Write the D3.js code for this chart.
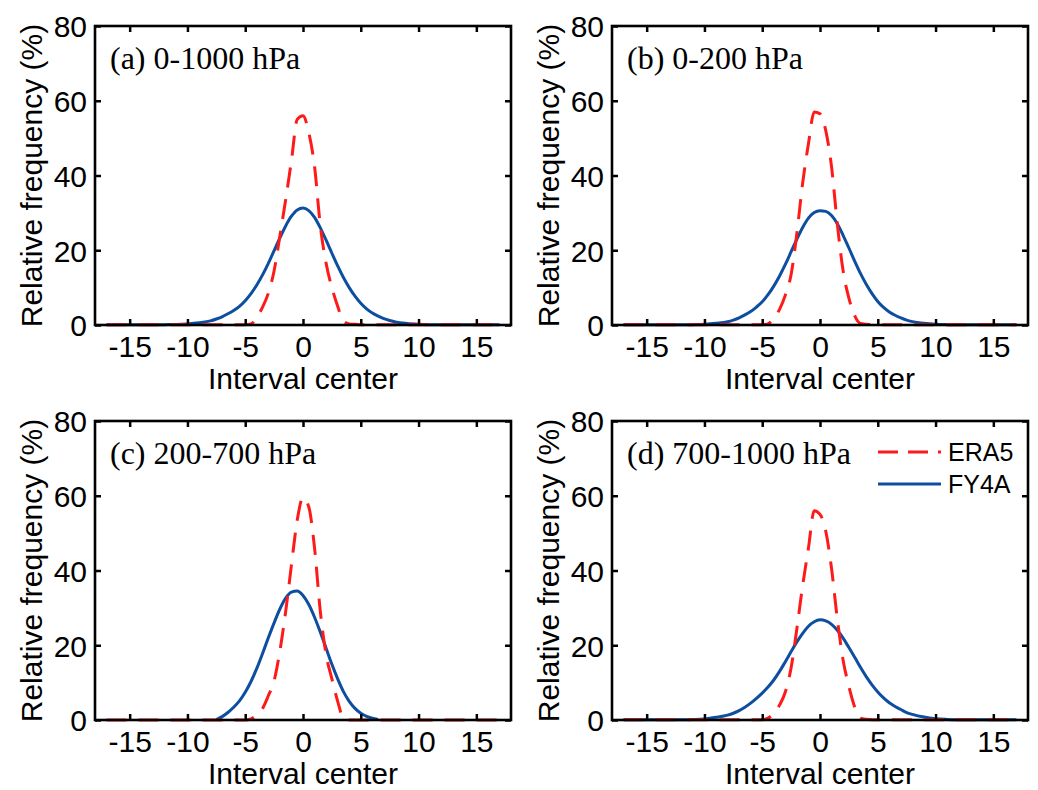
<!DOCTYPE html>
<html lang="en">
<head>
<meta charset="UTF-8">
<title>Relative frequency of interval centers</title>
<script src="https://d3js.org/d3.v7.min.js"></script>
<style>
  body { margin: 0; background: #fff; }
  svg { display: block; background: #fff; }
  .tick text { font-family: 'Liberation Sans', Arial, sans-serif; font-size: 30px; fill: #000; }
  .tick line { stroke: #000; stroke-width: 2.5; }
</style>
</head>
<body>
<svg id="chart" width="1038" height="790"></svg>
<script>
// interval centers (finer step near the peak)
const centers = [-17, -16, -15, -14, -13, -12, -11, -10, -9,
  -8, -7.5, -7, -6.5, -6, -5.5, -5, -4.5, -4, -3.5, -3, -2.5, -2, -1.5, -1, -0.5,
  0, 0.5, 1, 1.5, 2, 2.5, 3, 3.5, 4, 4.5, 5, 5.5, 6, 6.5, 7, 7.5, 8,
  9, 10, 11, 12, 13, 14, 15, 16, 17];

const xTicks = [-15, -10, -5, 0, 5, 10, 15];
const yTicks = [0, 20, 40, 60, 80];
const panelLabels = ['(a) 0-1000 hPa', '(b) 0-200 hPa', '(c) 200-700 hPa', '(d) 700-1000 hPa'];
const seriesNames = ['ERA5', 'FY4A'];

// (a) 0-1000 hPa
const era5A = [0.1, 0.1, 0.1, 0.1, 0.1, 0.1, 0.1, 0.1, 0.1,
  0.1, 0.1, 0.1, 0.1, 0.1, 0.1, 0.1, 0.3, 2.0, 4.8, 8.5, 14.5, 23.8, 33.5, 44, 55,
  56, 51.5, 42.4, 26.5, 16.5, 10, 5, 1.0, 0.3, 0.2, 0.1, 0.1, 0.1, 0.1, 0.1, 0.1, 0.1,
  0.1, 0.1, 0.1, 0.1, 0.1, 0.1, 0.1, 0.1, 0.1];
const fy4aA = [0.05, 0.05, 0.05, 0.05, 0.05, 0.1, 0.15, 0.3, 0.6,
  1.1, 1.6, 2.2, 3.0, 3.9, 5.0, 6.5, 8.4, 10.7, 13.4, 16.5, 19.9, 23.3, 26.5, 29.1, 30.8,
  31.3, 30.6, 28.8, 26.0, 22.7, 19.2, 15.8, 12.7, 10.0, 7.7, 5.8, 4.3, 3.2, 2.4, 1.7, 1.2, 0.8,
  0.4, 0.2, 0.1, 0.05, 0.05, 0.05, 0.05, 0.05, 0.05];

// (b) 0-200 hPa
const era5B = [0.1, 0.1, 0.1, 0.1, 0.1, 0.1, 0.1, 0.1, 0.1,
  0.1, 0.1, 0.1, 0.1, 0.1, 0.1, 0.1, 0.3, 1.8, 4.2, 8, 13.5, 24.6, 38, 48.5, 57,
  56.5, 52, 42.3, 27, 14.5, 7.2, 2.5, 0.4, 0.2, 0.1, 0.1, 0.1, 0.1, 0.1, 0.1, 0.1, 0.1,
  0.1, 0.1, 0.1, 0.1, 0.1, 0.1, 0.1, 0.1, 0.1];
const fy4aB = [0.05, 0.05, 0.05, 0.05, 0.05, 0.05, 0.1, 0.2, 0.45,
  0.85, 1.3, 1.9, 2.7, 3.6, 4.8, 6.2, 8.1, 10.4, 13.1, 16.2, 19.6, 23.0, 26.1, 28.6, 30.1,
  30.6, 30.4, 29.3, 27.1, 24.0, 20.6, 17.1, 13.8, 10.9, 8.4, 6.3, 4.7, 3.5, 2.6, 1.9, 1.3, 0.9,
  0.45, 0.2, 0.1, 0.05, 0.05, 0.05, 0.05, 0.05, 0.05];

// (c) 200-700 hPa
const era5C = [0, 0, 0, 0, 0, 0, 0, 0, 0,
  0, 0, 0, 0, 0, 0, 0, 0.3, 1.3, 3.1, 6.5, 10.5, 18.5, 29, 41.5, 53.5,
  59.5, 57, 46, 29, 17.5, 11, 5, 0.5, 0, 0, 0, 0, 0, 0, 0, 0, 0,
  0, 0, 0, 0, 0, 0, 0, 0, 0];
const fy4aC = [null, null, null, null, null, null, null, null, null,
  null, 0.1, 0.9, 2.0, 3.4, 5.1, 7.4, 10.3, 13.8, 17.8, 22, 26, 29.7, 32.6, 34.2, 34.5,
  33.3, 30.9, 27.5, 23.5, 19.2, 14.9, 11.0, 7.6, 5.0, 3.1, 1.8, 1.0, 0.5, 0.15, null, null, null,
  null, null, null, null, null, null, null, null, null];

// (d) 700-1000 hPa
const era5D = [0.1, 0.1, 0.1, 0.1, 0.1, 0.1, 0.1, 0.1, 0.1,
  0.1, 0.1, 0.1, 0.1, 0.1, 0.1, 0.1, 0.5, 1.8, 4, 7.5, 14, 24.5, 36, 46, 56,
  55, 50.5, 40.5, 27, 16, 9, 3.5, 0.5, 0.2, 0.1, 0.1, 0.1, 0.1, 0.1, 0.1, 0.1, 0.1,
  0.1, 0.1, 0.1, 0.1, 0.1, 0.1, 0.1, 0.1, 0.1];
const fy4aD = [0.05, 0.05, 0.05, 0.05, 0.05, 0.07, 0.14, 0.3, 0.72,
  1.3, 1.8, 2.5, 3.4, 4.5, 5.8, 7.2, 8.8, 10.7, 13.0, 15.6, 18.3, 20.9, 23.2, 25.1, 26.3,
  26.8, 26.5, 25.6, 24.0, 21.9, 19.4, 16.8, 14.1, 11.6, 9.4, 7.5, 5.9, 4.6, 3.6, 2.8, 2.0, 1.5,
  0.78, 0.34, 0.16, 0.08, 0.05, 0.05, 0.05, 0.05, 0.05];

const colors = { ERA5: '#ff1a1a', FY4A: '#0d4ea0' };
const dash = '20,12';

const svg = d3.select('#chart');
const panelW = 416, panelH = 299;

const panels = [
  { left: 95,  top: 26,  label: panelLabels[0], era5: era5A, fy4a: fy4aA },
  { left: 612, top: 26,  label: panelLabels[1], era5: era5B, fy4a: fy4aB },
  { left: 95,  top: 421, label: panelLabels[2], era5: era5C, fy4a: fy4aC },
  { left: 612, top: 421, label: panelLabels[3], era5: era5D, fy4a: fy4aD, legend: true }
];

const x = d3.scaleLinear().domain([-18, 18]).range([0, panelW]);
const y = d3.scaleLinear().domain([0, 80]).range([panelH, 0]);

const line = d3.line()
  .defined(d => d[1] != null)
  .x(d => x(d[0]))
  .y(d => y(d[1]))
  .curve(d3.curveMonotoneX);

const plain = d => String(d);   // hyphen minus, as in the original

panels.forEach(p => {
  const g = svg.append('g').attr('transform', `translate(${p.left},${p.top})`);

  // curves
  g.append('path')
    .datum(centers.map((c, i) => [c, p.fy4a[i]]))
    .attr('d', line)
    .attr('fill', 'none')
    .attr('stroke', colors.FY4A)
    .attr('stroke-width', 3);

  g.append('path')
    .datum(centers.map((c, i) => [c, p.era5[i]]))
    .attr('d', line)
    .attr('fill', 'none')
    .attr('stroke', colors.ERA5)
    .attr('stroke-width', 3)
    .attr('stroke-dasharray', dash);

  // axes, ticks pointing inward on all four sides
  g.append('g')
    .attr('transform', `translate(0,${panelH})`)
    .call(d3.axisBottom(x).tickValues(xTicks).tickSizeInner(-6).tickSizeOuter(0).tickPadding(11).tickFormat(plain));
  const left = g.append('g')
    .call(d3.axisLeft(y).tickValues(yTicks).tickSizeInner(-6).tickSizeOuter(0).tickPadding(8).tickFormat(plain));
  g.append('g')
    .call(d3.axisTop(x).tickValues(xTicks).tickSizeInner(-6).tickSizeOuter(0).tickFormat(''));
  g.append('g')
    .attr('transform', `translate(${panelW},0)`)
    .call(d3.axisRight(y).tickValues(yTicks).tickSizeInner(-6).tickSizeOuter(0).tickFormat(''));
  g.selectAll('.domain').remove();
  left.selectAll('.tick text').attr('dy', '0.36em');

  g.append('rect')
    .attr('width', panelW)
    .attr('height', panelH)
    .attr('fill', 'none')
    .attr('stroke', '#000')
    .attr('stroke-width', 2.6);

  // axis titles
  g.append('text')
    .attr('x', panelW / 2)
    .attr('y', panelH + 64)
    .attr('text-anchor', 'middle')
    .style('font-family', "'Liberation Sans', Arial, sans-serif")
    .style('font-size', '30px')
    .text('Interval center');

  g.append('text')
    .attr('transform', `translate(-53,${panelH / 2}) rotate(-90)`)
    .attr('text-anchor', 'middle')
    .style('font-family', "'Liberation Sans', Arial, sans-serif")
    .style('font-size', '30px')
    .text('Relative frequency (%)');

  // panel label
  g.append('text')
    .attr('x', 15)
    .attr('y', 43)
    .style('font-family', "'Liberation Serif', 'Times New Roman', serif")
    .style('font-size', '32px')
    .text(p.label);

  if (p.legend) {
    const lg = g.append('g').attr('transform', 'translate(266,31)');
    seriesNames.forEach((name, i) => {
      const row = lg.append('g').attr('transform', `translate(0,${i * 32})`);
      row.append('line')
        .attr('x1', 0).attr('x2', 63)
        .attr('stroke', colors[name])
        .attr('stroke-width', 3)
        .attr('stroke-dasharray', name === 'ERA5' ? '20,10' : null);
      row.append('text')
        .attr('x', 70)
        .attr('y', 9)
        .style('font-family', "'Liberation Sans', Arial, sans-serif")
        .style('font-size', '25px')
        .text(name);
    });
  }
});
</script>
</body>
</html>
